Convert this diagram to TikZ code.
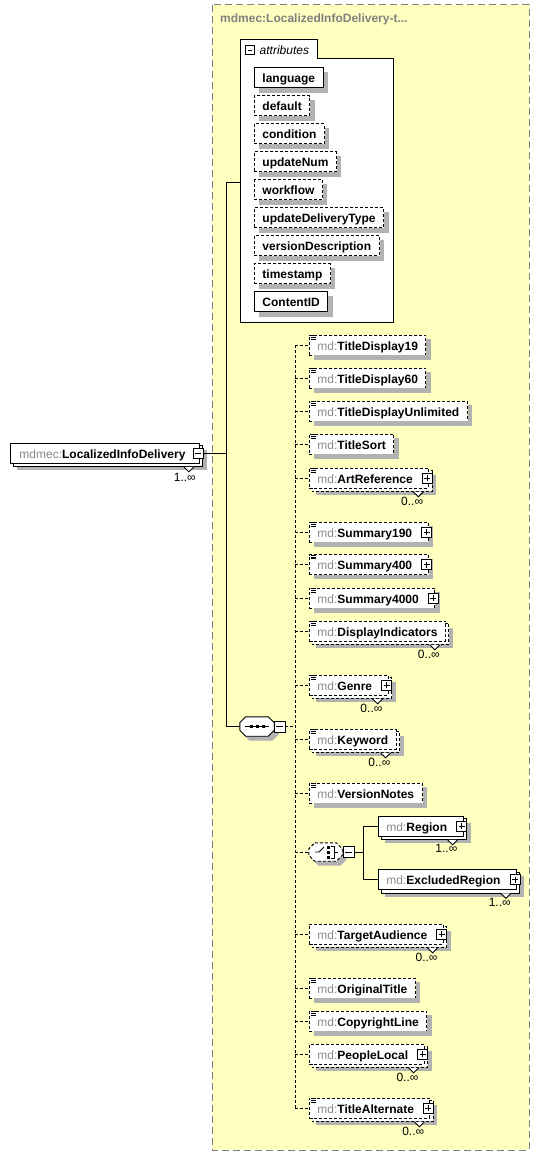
\documentclass[tikz,border=0pt]{standalone}
\usepackage{fontspec}
\setmainfont{Liberation Sans}
\definecolor{bgyellow}{HTML}{FFFFC0}
\definecolor{framegray}{HTML}{808080}
\definecolor{mdgray}{HTML}{8A8A8A}
\pgfdeclarelayer{backlayer}
\pgfdeclarelayer{copylayer}
\pgfsetlayers{backlayer,copylayer,main}
\newcommand\pre[1]{\textcolor{mdgray}{#1}}
\newcommand\fs{\fontsize{12}{14}\selectfont}
\newcommand\gap{\kern8pt}
\tikzset{
  lw/.style={line width=0.9pt},
  dsh/.style={line width=0.9pt, dash pattern=on 3pt off 2pt},
  base/.style={draw, fill=white, line width=0.9pt, anchor=west, inner xsep=8pt, inner ysep=3pt,
    text height=12pt, text depth=2pt, font=\fs},
  opt/.style={base, dash pattern=on 3pt off 2pt},
  req/.style={base},
  shadowstroke/.style={draw=black!30, solid, line cap=butt, line join=miter},
  pm/.style={draw, solid, fill=white, line width=0.8pt, minimum size=10pt, inner sep=0pt},
  minusbox/.style={pm, path picture={\draw[line width=0.8pt] ([xshift=2pt]path picture bounding box.west) -- ([xshift=-2pt]path picture bounding box.east);}},
  plusbox/.style={pm, path picture={\draw[line width=0.8pt] ([xshift=2pt]path picture bounding box.west) -- ([xshift=-2pt]path picture bounding box.east);
      \draw[line width=0.8pt] ([yshift=-2pt]path picture bounding box.north) -- ([yshift=2pt]path picture bounding box.south);}},
  mult/.style={anchor=north east, inner sep=0pt, font=\fs},
}
% L-shaped shadow band (4.5pt) along right and bottom of a single box
\newcommand\shone[1]{\draw[shadowstroke, line width=4.5pt] ([xshift=2.25pt,yshift=-4.5pt]#1.north east) -- ([xshift=2.25pt,yshift=-2.25pt]#1.south east) -- ([xshift=4.5pt,yshift=-2.25pt]#1.south west);}
% shadow band + back copy for repeated boxes (behind the front box)
\newcommand\shmany[2]{\begin{pgfonlayer}{copylayer}%
  \draw[shadowstroke, line width=7pt] ([xshift=3.5pt,yshift=-7pt]#1.north east) -- ([xshift=3.5pt,yshift=-3.5pt]#1.south east) -- ([xshift=7pt,yshift=-3.5pt]#1.south west);
  \draw[#2, fill=white] ([xshift=3pt,yshift=-3pt]#1.north west) rectangle ([xshift=3pt,yshift=-3pt]#1.south east);\end{pgfonlayer}}
\newcommand\eqi[1]{\draw[line width=0.7pt, solid] ([xshift=2pt,yshift=-1pt]#1.north west) -- ++(5pt,0pt)
  ([xshift=2pt,yshift=-2.8pt]#1.north west) -- ++(5pt,0pt)
  ([xshift=2pt,yshift=-4.6pt]#1.north west) -- ++(5pt,0pt);}
\newcommand\pb[1]{\node[plusbox] (#1-pm) at ([xshift=-2pt]#1.east) {};}
\newcommand\tk[1]{\draw[line width=0.9pt, solid, fill=white] ([xshift=-16pt,yshift=-3.4pt]#1.south east) -- ++(5pt,-5pt) -- ++(5pt,5pt);}
\newcommand\mlt[2]{\node[mult] (#1-m) at ([xshift=-6pt,yshift=-8pt]#1.south east) {#2};}
% octagon around a node: #1 node, #2 options, #3 shift in pt
\newcommand\octo[3]{\path[#2] ([xshift=6pt+#3pt,yshift=-#3pt]#1.north west) -- ([xshift=-6pt+#3pt,yshift=-#3pt]#1.north east)
  -- ([xshift=#3pt,yshift=-6pt-#3pt]#1.north east) -- ([xshift=#3pt,yshift=6pt-#3pt]#1.south east)
  -- ([xshift=-6pt+#3pt,yshift=-#3pt]#1.south east) -- ([xshift=6pt+#3pt,yshift=-#3pt]#1.south west)
  -- ([xshift=#3pt,yshift=6pt-#3pt]#1.south west) -- ([xshift=#3pt,yshift=-6pt-#3pt]#1.north west) -- cycle;}
\begin{document}
\begin{tikzpicture}[x=1pt, y=-1pt]
\useasboundingbox (0,0) rectangle (540,1156);
% yellow type box
\begin{pgfonlayer}{backlayer}
\draw[framegray, fill=bgyellow, line width=1pt, dash pattern=on 7pt off 4pt] (212,5) rectangle (529,1150);
\end{pgfonlayer}
\node[anchor=west, inner sep=0pt, text=framegray, font=\fs\bfseries] (title) at (220,19) {mdmec:LocalizedInfoDelivery-t...};

% attributes container
\draw[lw, fill=white] (240,322.5) -- (240,39.5) -- (317,39.5) -- (317,58.5) -- (393,58.5) -- (393,322.5) -- cycle;
\coordinate (attrsW) at (240,182);
\node[minusbox, minimum size=8.5pt] (attr-pm) at (250,50) {};
\node[anchor=west, inner sep=0pt, font=\fs\itshape] (attrlbl) at (259.5,50) {attributes};
\node[req] (a1) at (254,77.7) {\textbf{language}};
\node[opt] (a2) at (254,105.7) {\textbf{default}};
\node[opt] (a3) at (254,133.7) {\textbf{condition}};
\node[opt] (a4) at (254,161.7) {\textbf{updateNum}};
\node[opt] (a5) at (254,189.7) {\textbf{workflow}};
\node[opt] (a6) at (254,217.7) {\textbf{updateDeliveryType}};
\node[opt] (a7) at (254,245.7) {\textbf{versionDescription}};
\node[opt] (a8) at (254,273.7) {\textbf{timestamp}};
\node[req] (a9) at (254,301.7) {\textbf{ContentID}};
\foreach \n in {a1,a2,a3,a4,a5,a6,a7,a8,a9} {\shone{\n}}

% main element
\node[req, inner xsep=9pt] (main) at (10,453) {\pre{mdmec:}\textbf{LocalizedInfoDelivery}\kern5pt};
\shmany{main}{lw}
\node[minusbox] (main-pm) at ([xshift=-1.5pt]main.east) {};
\tk{main}
\node[mult] (main-m) at ([xshift=-4pt,yshift=-10pt]main.south east) {1..∞};

% sequence compositor
\node[minimum width=34pt, minimum height=19pt, inner sep=0pt] (seq) at (257,726.5) {};
\begin{pgfonlayer}{copylayer}\octo{seq}{draw=black!30, fill=black!30, line width=1pt}{4}\end{pgfonlayer}
\octo{seq}{lw, draw, fill=white}{0}
\draw[lw] (245,726.5) -- (269,726.5);
\fill (249.5,725) rectangle (252.5,728);
\fill (255.5,725) rectangle (258.5,728);
\fill (261.5,725) rectangle (264.5,728);
\node[minusbox, minimum size=11pt] (seq-pm) at (279.5,726.5) {};

% children
\node[opt] (td19) at (309,345) {\pre{md:}\textbf{TitleDisplay19}};
\node[opt] (td60) at (309,378) {\pre{md:}\textbf{TitleDisplay60}};
\node[opt] (tdu) at (309,411) {\pre{md:}\textbf{TitleDisplayUnlimited}};
\node[opt] (tsort) at (309,444) {\pre{md:}\textbf{TitleSort}};
\node[opt] (art) at (309,478) {\pre{md:}\textbf{ArtReference}\gap};
\node[opt] (s190) at (309,532) {\pre{md:}\textbf{Summary190}\gap};
\node[opt] (s400) at (309,564.5) {\pre{md:}\textbf{Summary400}\gap};
\node[opt] (s4000) at (309,598) {\pre{md:}\textbf{Summary4000}\gap};
\node[opt] (disp) at (309,631) {\pre{md:}\textbf{DisplayIndicators}};
\node[opt] (genre) at (309,685) {\pre{md:}\textbf{Genre}\gap};
\node[opt] (kw) at (309,739) {\pre{md:}\textbf{Keyword}};
\node[opt] (vn) at (309,793) {\pre{md:}\textbf{VersionNotes}};

% choice compositor
\node[minimum width=33pt, minimum height=18pt, inner sep=0pt] (ch) at (325.5,852) {};
\begin{pgfonlayer}{copylayer}\octo{ch}{draw=black!30, fill=black!30, line width=1pt}{4}\end{pgfonlayer}
\octo{ch}{dsh, draw, fill=white}{0}
\draw[lw] (315,852) -- (319,852) -- (324,847);
\fill (326.5,845.5) rectangle (329.5,848.5);
\fill (326.5,850.5) rectangle (329.5,853.5);
\fill (326.5,855.5) rectangle (329.5,858.5);
\draw[lw] (331,846) -- (334,846) -- (334,858) -- (331,858);
\draw[lw] (334,852) -- (338,852);
\node[minusbox, minimum size=11pt] (ch-pm) at (348.5,852) {};

\node[req] (reg) at (378,826) {\pre{md:}\textbf{Region}\gap};
\node[req] (exreg) at (378,879.5) {\pre{md:}\textbf{ExcludedRegion}\gap};

\node[opt] (ta) at (309,934) {\pre{md:}\textbf{TargetAudience}\gap};
\node[opt] (ot) at (309,988) {\pre{md:}\textbf{OriginalTitle}};
\node[opt] (cl) at (309,1021) {\pre{md:}\textbf{CopyrightLine}};
\node[opt] (pl) at (309,1054) {\pre{md:}\textbf{PeopleLocal}\gap};
\node[opt] (talt) at (309,1108) {\pre{md:}\textbf{TitleAlternate}\gap};

% shadows and repeat copies
\foreach \n in {td19,td60,tdu,tsort,s190,s400,s4000,vn,ot,cl} {\shone{\n}}
\foreach \n in {art,disp,genre,kw,ta,pl,talt} {\shmany{\n}{dsh}}
\foreach \n in {reg,exreg} {\shmany{\n}{lw}}
% text-content marks, expand boxes, repeat marks and cardinalities
\foreach \n in {td19,td60,tdu,tsort,art,s190,s400,s4000,disp,genre,kw,vn,ot,cl,talt} {\eqi{\n}}
\foreach \n in {art,s190,s400,s4000,genre,reg,exreg,ta,pl,talt} {\pb{\n}}
\foreach \n in {art,disp,genre,kw,ta,pl,talt,reg,exreg} {\tk{\n}}
\mlt{art}{0..∞} \mlt{disp}{0..∞} \mlt{genre}{0..∞} \mlt{kw}{0..∞}
\mlt{reg}{1..∞} \mlt{exreg}{1..∞}
\mlt{ta}{0..∞} \mlt{pl}{0..∞} \mlt{talt}{0..∞}

% connectors
\coordinate (trunkTop) at (226,182);
\coordinate (trunkBot) at (226,726.5);
\draw[lw] (main-pm.east) -- (main-pm.east -| trunkTop);
\draw[lw] (attrsW) -- (trunkTop) -- (trunkBot) -- (seq.west);
\coordinate (sTop) at (295,345);
\coordinate (sBot) at (295,1108);
\draw[dsh] (sTop) -- (sBot);
\draw[dsh] (seq-pm.east) -- (seq-pm.east -| sTop);
\foreach \n in {td19,td60,tdu,tsort,art,s190,s400,s4000,disp,genre,kw,vn,ch,ta,ot,cl,pl,talt}
  \draw[dsh] (\n.west -| sTop) -- (\n.west);
\coordinate (cTop) at (363,826);
\draw[lw] (ch-pm.east) -- (ch-pm.east -| cTop);
\draw[lw] (reg.west) -- (reg.west -| cTop) -- (exreg.west -| cTop) -- (exreg.west);
\end{tikzpicture}
\end{document}
